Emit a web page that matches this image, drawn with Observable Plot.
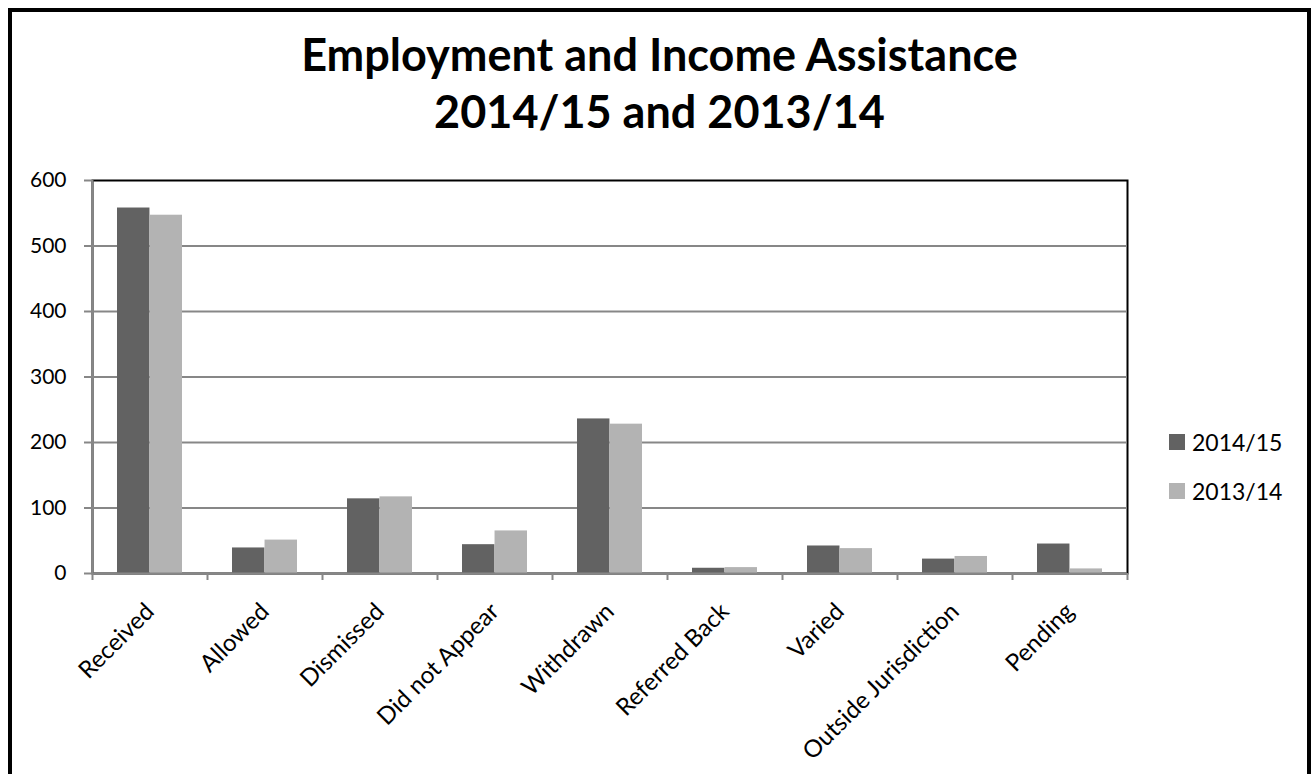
<!DOCTYPE html>
<html>
<head>
<meta charset="utf-8">
<script src="https://cdn.jsdelivr.net/npm/d3@7"></script>
<script src="https://cdn.jsdelivr.net/npm/@observablehq/plot@0.6"></script>
<style>
  html, body { margin: 0; padding: 0; width: 1312px; height: 774px; overflow: hidden; background: #fff; font-family: Lato, "Open Sans", sans-serif; }
  #frame { position: absolute; left: 8px; top: 8px; width: 1295px; height: 820px; border: 4px solid #000; box-sizing: content-box; }
  #title { position: absolute; left: 0; top: 26px; width: 1319px; text-align: center; font-weight: 700; font-size: 45px; line-height: 57px; color: #000; }
  #chart { position: absolute; left: 0; top: 0; }
  .legend { position: absolute; left: 1169px; font-size: 23px; color: #000; display: flex; align-items: center; }
  .legend span.sw { display: inline-block; width: 16px; height: 16px; margin-right: 7px; }
</style>
</head>
<body>
<div id="frame"></div>
<div id="title">Employment and Income Assistance<br>2014/15 and 2013/14</div>
<div id="chart"></div>
<div class="legend" style="top:428px"><span class="sw" style="background:#626262"></span><span>2014/15</span></div>
<div class="legend" style="top:477px"><span class="sw" style="background:#b3b3b3"></span><span>2013/14</span></div>
<script>
const categories = ["Received", "Allowed", "Dismissed", "Did not Appear", "Withdrawn", "Referred Back", "Varied", "Outside Jurisdiction", "Pending"];
const values2014 = [558, 39, 114, 44, 236, 8, 42, 22, 45];
const values2013 = [547, 51, 117, 65, 228, 9, 38, 26, 7];
const seriesNames = ["2014/15", "2013/14"];
const yTicks = [0, 100, 200, 300, 400, 500, 600];

const data2014 = categories.map((c, i) => ({category: c, value: values2014[i], series: seriesNames[0]}));
const data2013 = categories.map((c, i) => ({category: c, value: values2013[i], series: seriesNames[1]}));

const W = 1312, H = 774;
const mL = 92, mR = 185, mT = 180, mB = 201;
const pInner = 0.434;
const step = (W - mL - mR) / categories.length;
const bw = step * (1 - pInner);
const gray = "#878787";

const chart = Plot.plot({
  width: W,
  height: H,
  marginLeft: mL,
  marginRight: mR,
  marginTop: mT,
  marginBottom: mB,
  style: {fontFamily: "Lato, 'Open Sans', sans-serif", fontSize: "21px", color: "#000", background: "transparent"},
  x: {type: "band", domain: categories, paddingInner: pInner, paddingOuter: pInner / 2, axis: null, label: null},
  y: {domain: [0, 600], axis: null, label: null},
  marks: [
    Plot.frame({stroke: "#000", strokeWidth: 2}),
    Plot.ruleY(yTicks.filter(d => d > 0 && d < 600), {stroke: gray, strokeWidth: 2}),
    Plot.barY(data2014, {x: "category", y: "value", fill: "#626262", insetRight: bw / 2}),
    Plot.barY(data2013, {x: "category", y: "value", fill: "#b3b3b3", insetLeft: bw / 2}),
    Plot.ruleX([0], {x: () => categories[0], dx: -step / 2, y1: 0, y2: 600, stroke: gray, strokeWidth: 2}),
    Plot.ruleY([0], {stroke: gray, strokeWidth: 2}),
    Plot.axisY({ticks: yTicks, label: null, tickSize: 8, tickPadding: 18, stroke: gray, strokeWidth: 2, fontSize: 21, fill: "#000", tickFormat: d => String(d)}),
    Plot.axisX({ticks: categories, label: null, tickSize: 7, stroke: gray, strokeWidth: 2, dx: -step / 2, tickFormat: () => ""}),
    Plot.axisX({ticks: [categories[categories.length - 1]], label: null, tickSize: 7, stroke: gray, strokeWidth: 2, dx: step / 2, tickFormat: () => ""}),
    Plot.text(categories, {x: d => d, frameAnchor: "bottom", dy: 34, rotate: -45, textAnchor: "end", lineAnchor: "middle", fontSize: 24, fill: "#000"})
  ]
});
document.getElementById("chart").appendChild(chart);
</script>
</body>
</html>
